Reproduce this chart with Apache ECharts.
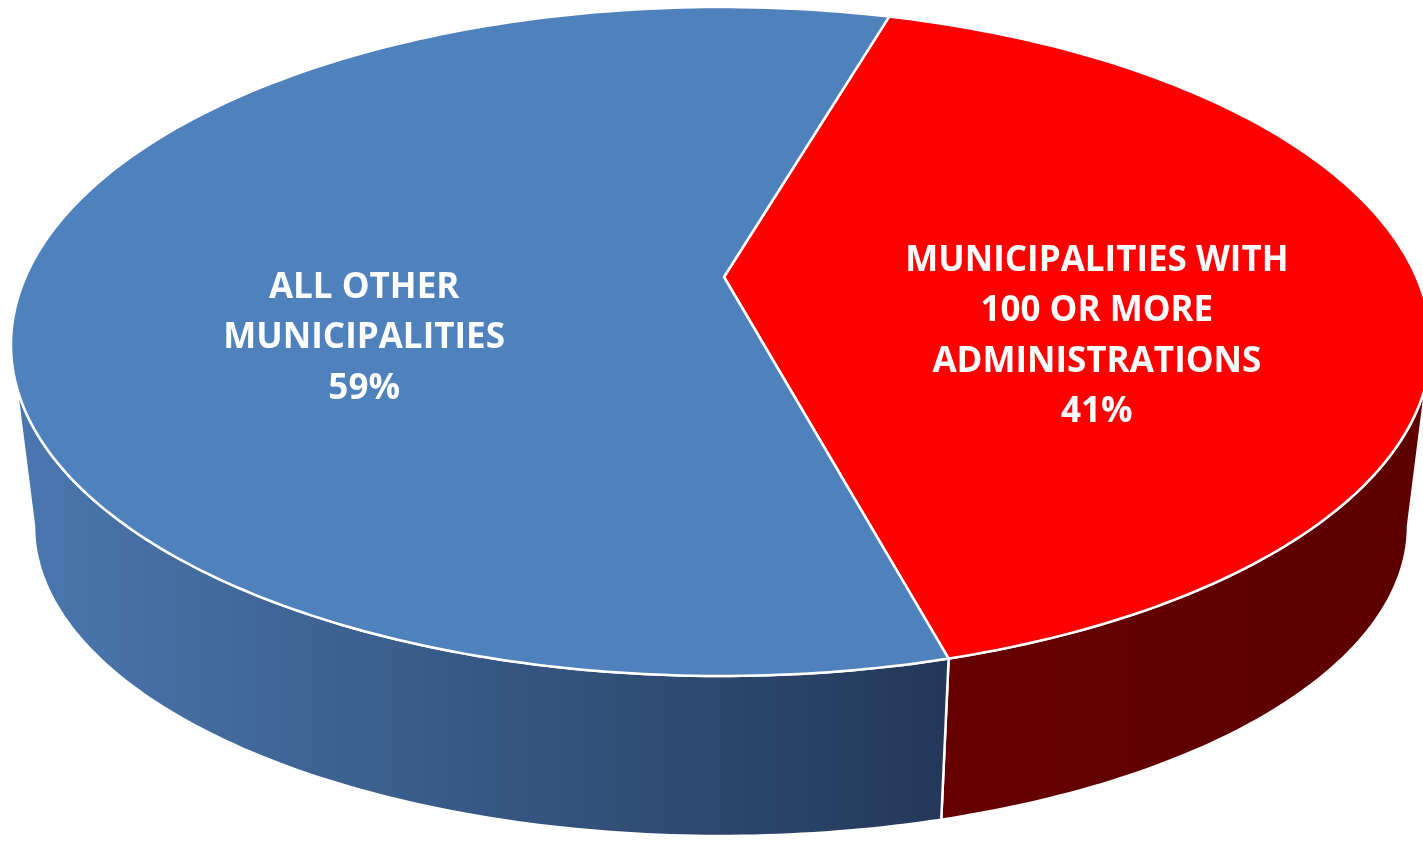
<!DOCTYPE html>
<html>
<head>
<meta charset="utf-8">
<script src="https://cdn.jsdelivr.net/npm/echarts@6/dist/echarts.min.js"></script>
<style>
html,body{margin:0;padding:0;background:#fff;}
#chart{width:1423px;height:841px;}
</style>
</head>
<body>
<div id="chart"></div>
<script>
// ---- data ----
const categories = ['MUNICIPALITIES WITH\n100 OR MORE\nADMINISTRATIONS', 'ALL OTHER\nMUNICIPALITIES'];
const values = [41, 59];

// ---- styles / layout ----
const topColors = ['#ff0000', '#4f81bd'];
const wallColors = [
  ['#660000', '#5c0000'],
  ['#4b78b0', '#233858']
];
const startAngle = 13.7;          // degrees, clockwise from top
const topE = {cx: 721, cy: 345, rx: 710, ryUp: 338, ryDown: 331};
const botE = {cx: 721, cy: 526, rx: 687, ryUp: 320, ryDown: 310};
const apex = [724, 277];
const labelFrac = 0.52;
const labelShift = [[7, 7], [12, -6]];

const total = values.reduce((a, b) => a + b, 0);

function pt(e, deg) {
  const r = deg * Math.PI / 180;
  const c = Math.cos(r);
  const ry = c >= 0 ? e.ryUp : e.ryDown;
  return [e.cx + e.rx * Math.sin(r), e.cy - ry * c];
}
function arc(e, a, b) {
  const pts = [];
  const n = Math.max(2, Math.ceil(Math.abs(b - a)));
  for (let i = 0; i <= n; i++) pts.push(pt(e, a + (b - a) * i / n));
  return pts;
}

function renderItem(params, api) {
  const idx = params.dataIndex;
  let before = 0;
  for (let i = 0; i < idx; i++) before += values[i];
  const v = api.value(0);
  const a1 = startAngle + before / total * 360;
  const a2 = a1 + v / total * 360;
  const children = [];

  // visible side wall: front half (90..270 degrees), also +360 shifted
  [[90, 270], [450, 630]].forEach(([f1, f2]) => {
    const s = Math.max(a1, f1), e = Math.min(a2, f2);
    if (e > s) {
      const top = arc(topE, s, e);
      const bot = arc(botE, e, s);
      const xs = top.concat(bot).map(p => p[0]);
      children.push({
        type: 'polygon',
        z2: 1,
        shape: {points: top.concat(bot)},
        style: {
          fill: new echarts.graphic.LinearGradient(Math.min(...xs), 0, Math.max(...xs), 0, [
            {offset: 0, color: wallColors[idx][0]},
            {offset: 1, color: wallColors[idx][1]}
          ], true),
          stroke: '#ffffff',
          lineWidth: 2.5
        }
      });
    }
  });

  // top face
  const topPts = [apex].concat(arc(topE, a1, a2));
  children.push({
    type: 'polygon',
    z2: 10,
    shape: {points: topPts},
    style: {fill: topColors[idx], stroke: '#ffffff', lineWidth: 2.5, lineJoin: 'round'}
  });

  // label
  const mid = (a1 + a2) / 2;
  const r = mid * Math.PI / 180;
  const c = Math.cos(r);
  const lx = topE.cx + topE.rx * labelFrac * Math.sin(r) + labelShift[idx][0];
  const ly = topE.cy - (c >= 0 ? topE.ryUp : topE.ryDown) * labelFrac * c - 8 + labelShift[idx][1];
  children.push({
    type: 'text',
    z2: 20,
    style: {
      text: categories[idx] + '\n' + Math.round(v / total * 100) + '%',
      x: lx, y: ly,
      fill: '#ffffff',
      fontFamily: 'Open Sans',
      fontWeight: 'bold',
      fontSize: 35,
      lineHeight: 50.5,
      align: 'center',
      verticalAlign: 'middle'
    }
  });

  return {type: 'group', children};
}

const chart = echarts.init(document.getElementById('chart'), null, {renderer: 'canvas'});
chart.setOption({
  backgroundColor: '#ffffff',
  animation: false,
  series: [{
    type: 'custom',
    coordinateSystem: 'none',
    renderItem: renderItem,
    data: values.map((v, i) => ({name: categories[i], value: [v, i]}))
  }]
});
</script>
</body>
</html>
